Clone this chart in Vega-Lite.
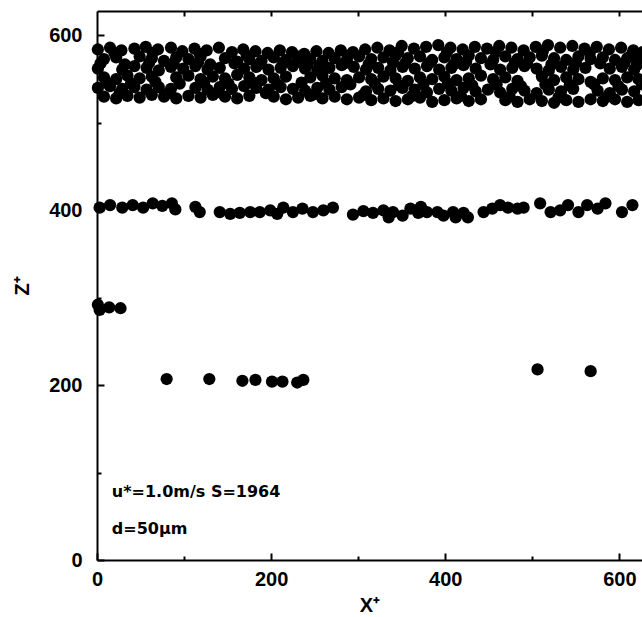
{
  "$schema": "https://vega.github.io/schema/vega-lite/v6.json",
  "width": 545,
  "height": 549,
  "autosize": {"type": "none"},
  "padding": {"left": 97, "top": 11, "right": 0, "bottom": 57},
  "background": "white",
  "config": {
    "view": {"stroke": null},
    "axis": {
      "domainColor": "black", "domainWidth": 2, "tickColor": "black", "tickWidth": 2,
      "labelFont": "Liberation Sans", "labelFontWeight": "bold", "labelFontSize": 20, "labelColor": "black",
      "titleFont": "Liberation Sans", "titleFontWeight": "bold", "titleFontSize": 20, "titleColor": "black",
      "grid": false, "labelFlush": false
    }
  },
  "datasets": {
    "particles": [
      {"x":1,"z":584},{"x":15,"z":586},{"x":28,"z":583},{"x":43,"z":585},{"x":56,"z":587},{"x":70,"z":584},{"x":85,"z":586},{"x":98,"z":582},{"x":112,"z":585},{"x":126,"z":583},{"x":140,"z":586},{"x":155,"z":581},{"x":168,"z":584},{"x":182,"z":582},{"x":196,"z":580},{"x":210,"z":583},{"x":224,"z":581},{"x":238,"z":579},{"x":252,"z":582},{"x":266,"z":580},{"x":280,"z":583},{"x":294,"z":581},{"x":308,"z":584},{"x":322,"z":586},{"x":336,"z":583},{"x":350,"z":588},{"x":364,"z":585},{"x":378,"z":587},{"x":392,"z":589},{"x":406,"z":586},{"x":420,"z":584},{"x":434,"z":587},{"x":448,"z":585},{"x":462,"z":588},{"x":476,"z":586},{"x":490,"z":583},{"x":504,"z":587},{"x":518,"z":589},{"x":532,"z":586},{"x":546,"z":588},{"x":560,"z":585},{"x":574,"z":587},{"x":588,"z":584},{"x":602,"z":586},{"x":616,"z":583},{"x":627,"z":581},
      {"x":8,"z":573},{"x":22,"z":575},{"x":49,"z":576},{"x":63,"z":574},{"x":77,"z":571},{"x":91,"z":575},{"x":105,"z":573},{"x":119,"z":576},{"x":147,"z":574},{"x":161,"z":570},{"x":175,"z":573},{"x":189,"z":571},{"x":203,"z":575},{"x":217,"z":572},{"x":231,"z":570},{"x":245,"z":573},{"x":259,"z":571},{"x":273,"z":574},{"x":287,"z":572},{"x":301,"z":576},{"x":315,"z":573},{"x":329,"z":575},{"x":343,"z":577},{"x":357,"z":574},{"x":371,"z":576},{"x":385,"z":572},{"x":399,"z":575},{"x":413,"z":573},{"x":427,"z":577},{"x":441,"z":574},{"x":455,"z":572},{"x":469,"z":576},{"x":483,"z":573},{"x":497,"z":575},{"x":511,"z":577},{"x":525,"z":574},{"x":539,"z":572},{"x":553,"z":576},{"x":567,"z":573},{"x":581,"z":575},{"x":595,"z":572},{"x":609,"z":574},{"x":622,"z":571},
      {"x":1,"z":562},{"x":29,"z":561},{"x":43,"z":565},{"x":57,"z":563},{"x":71,"z":560},{"x":85,"z":564},{"x":99,"z":562},{"x":113,"z":565},{"x":127,"z":561},{"x":141,"z":563},{"x":169,"z":562},{"x":183,"z":564},{"x":197,"z":561},{"x":211,"z":563},{"x":225,"z":565},{"x":239,"z":562},{"x":253,"z":560},{"x":267,"z":563},{"x":281,"z":566},{"x":295,"z":564},{"x":309,"z":561},{"x":323,"z":563},{"x":337,"z":560},{"x":351,"z":564},{"x":365,"z":562},{"x":379,"z":565},{"x":393,"z":561},{"x":407,"z":563},{"x":421,"z":566},{"x":435,"z":562},{"x":463,"z":561},{"x":477,"z":563},{"x":491,"z":565},{"x":505,"z":562},{"x":519,"z":560},{"x":533,"z":564},{"x":547,"z":561},{"x":561,"z":563},{"x":589,"z":562},{"x":603,"z":564},{"x":617,"z":561},
      {"x":8,"z":552},{"x":22,"z":550},{"x":35,"z":554},{"x":49,"z":551},{"x":63,"z":553},{"x":91,"z":552},{"x":105,"z":554},{"x":119,"z":550},{"x":133,"z":553},{"x":147,"z":551},{"x":161,"z":555},{"x":175,"z":552},{"x":189,"z":549},{"x":203,"z":551},{"x":217,"z":553},{"x":245,"z":552},{"x":259,"z":554},{"x":273,"z":551},{"x":287,"z":549},{"x":301,"z":552},{"x":315,"z":550},{"x":329,"z":553},{"x":343,"z":551},{"x":357,"z":548},{"x":371,"z":552},{"x":385,"z":550},{"x":399,"z":553},{"x":413,"z":549},{"x":427,"z":551},{"x":441,"z":554},{"x":455,"z":550},{"x":469,"z":552},{"x":483,"z":548},{"x":511,"z":553},{"x":525,"z":549},{"x":539,"z":552},{"x":553,"z":550},{"x":567,"z":547},{"x":581,"z":551},{"x":595,"z":549},{"x":609,"z":552},{"x":622,"z":550},
      {"x":1,"z":540},{"x":15,"z":542},{"x":29,"z":539},{"x":43,"z":541},{"x":57,"z":538},{"x":71,"z":541},{"x":85,"z":539},{"x":113,"z":540},{"x":127,"z":538},{"x":141,"z":541},{"x":155,"z":539},{"x":169,"z":542},{"x":183,"z":540},{"x":197,"z":538},{"x":211,"z":541},{"x":225,"z":539},{"x":239,"z":537},{"x":253,"z":540},{"x":267,"z":538},{"x":281,"z":541},{"x":309,"z":536},{"x":323,"z":539},{"x":337,"z":537},{"x":351,"z":540},{"x":365,"z":538},{"x":379,"z":535},{"x":393,"z":539},{"x":407,"z":537},{"x":421,"z":540},{"x":435,"z":536},{"x":449,"z":538},{"x":463,"z":535},{"x":477,"z":539},{"x":491,"z":537},{"x":505,"z":534},{"x":519,"z":538},{"x":533,"z":536},{"x":547,"z":539},{"x":575,"z":537},{"x":589,"z":534},{"x":603,"z":538},{"x":617,"z":536},
      {"x":8,"z":530},{"x":22,"z":528},{"x":35,"z":531},{"x":49,"z":529},{"x":63,"z":532},{"x":77,"z":530},{"x":91,"z":528},{"x":105,"z":531},{"x":119,"z":529},{"x":133,"z":532},{"x":147,"z":530},{"x":161,"z":528},{"x":175,"z":531},{"x":203,"z":530},{"x":217,"z":527},{"x":231,"z":529},{"x":245,"z":531},{"x":259,"z":528},{"x":273,"z":530},{"x":287,"z":527},{"x":301,"z":529},{"x":315,"z":526},{"x":329,"z":528},{"x":343,"z":525},{"x":357,"z":527},{"x":371,"z":529},{"x":385,"z":524},{"x":399,"z":526},{"x":413,"z":528},{"x":427,"z":525},{"x":441,"z":527},{"x":469,"z":526},{"x":483,"z":524},{"x":497,"z":527},{"x":511,"z":525},{"x":525,"z":523},{"x":539,"z":526},{"x":553,"z":524},{"x":567,"z":527},{"x":581,"z":525},{"x":595,"z":527},{"x":609,"z":524},{"x":622,"z":526},
      {"x":4,"z":568},{"x":32,"z":567},{"x":60,"z":569},{"x":88,"z":568},{"x":116,"z":569},{"x":130,"z":567},{"x":158,"z":568},{"x":186,"z":567},{"x":214,"z":569},{"x":242,"z":567},{"x":256,"z":566},{"x":284,"z":568},{"x":312,"z":567},{"x":340,"z":569},{"x":354,"z":568},{"x":382,"z":569},{"x":410,"z":567},{"x":424,"z":570},{"x":452,"z":567},{"x":480,"z":569},{"x":494,"z":568},{"x":522,"z":567},{"x":550,"z":569},{"x":578,"z":568},{"x":606,"z":569},{"x":620,"z":566},
      {"x":11,"z":546},{"x":39,"z":545},{"x":67,"z":547},{"x":95,"z":545},{"x":123,"z":546},{"x":151,"z":545},{"x":179,"z":546},{"x":207,"z":544},{"x":235,"z":546},{"x":263,"z":545},{"x":291,"z":544},{"x":319,"z":545},{"x":347,"z":543},{"x":375,"z":544},{"x":403,"z":545},{"x":431,"z":543},{"x":459,"z":544},{"x":487,"z":542},{"x":515,"z":544},{"x":543,"z":543},{"x":571,"z":544},{"x":599,"z":542},{"x":626,"z":544},
      {"x":20,"z":580},{"x":64,"z":580},{"x":118,"z":579},{"x":172,"z":577},{"x":230,"z":576},{"x":288,"z":577},{"x":346,"z":581},{"x":402,"z":581},{"x":458,"z":581},{"x":512,"z":582},{"x":566,"z":580},{"x":614,"z":578},
      {"x":26,"z":534},{"x":82,"z":534},{"x":138,"z":535},{"x":194,"z":534},{"x":250,"z":533},{"x":306,"z":532},{"x":362,"z":531},{"x":418,"z":531},{"x":474,"z":530},{"x":530,"z":529},{"x":586,"z":530},
      {"x":3,"z":403},{"x":15,"z":406},{"x":29,"z":403},{"x":41,"z":406},{"x":53,"z":403},{"x":64,"z":408},{"x":75,"z":405},{"x":86,"z":408},{"x":90,"z":401},
      {"x":113,"z":404},{"x":118,"z":398},
      {"x":141,"z":398},{"x":153,"z":396},{"x":164,"z":397},{"x":176,"z":398},{"x":187,"z":398},{"x":199,"z":400},{"x":207,"z":396},{"x":214,"z":403},{"x":225,"z":398},{"x":236,"z":402},
      {"x":248,"z":398},{"x":260,"z":400},{"x":271,"z":403},
      {"x":294,"z":395},{"x":306,"z":399},{"x":317,"z":397},{"x":329,"z":400},{"x":335,"z":392},{"x":340,"z":398},{"x":351,"z":394},{"x":360,"z":402},{"x":369,"z":397},{"x":372,"z":404},{"x":379,"z":398},{"x":391,"z":398},{"x":398,"z":394},{"x":409,"z":398},{"x":412,"z":392},{"x":421,"z":397},{"x":426,"z":392},
      {"x":444,"z":398},{"x":454,"z":402},{"x":463,"z":406},{"x":472,"z":403},{"x":483,"z":402},{"x":490,"z":403},{"x":509,"z":408},{"x":521,"z":398},{"x":532,"z":400},{"x":541,"z":406},{"x":553,"z":398},{"x":563,"z":406},{"x":575,"z":402},{"x":584,"z":408},
      {"x":603,"z":398},{"x":615,"z":406},
      {"x":1,"z":292},{"x":3,"z":286},{"x":14,"z":289},{"x":27,"z":288},
      {"x":80,"z":207},{"x":129,"z":207},{"x":167,"z":205},{"x":182,"z":206},{"x":201,"z":204},{"x":213,"z":204},{"x":230,"z":203},{"x":237,"z":206},
      {"x":506,"z":218},{"x":567,"z":216}
    ]
  },
  "layer": [
    {
      "data": {"name": "particles"},
      "mark": {"type": "point", "filled": true, "color": "black", "opacity": 1, "size": 150},
      "encoding": {
        "x": {"field": "x", "type": "quantitative",
          "scale": {"domain": [0, 626], "nice": false, "zero": false},
          "axis": {"orient": "bottom", "values": [0,100,200,300,400,500,600],
            "labelExpr": "datum.value % 200 === 0 ? datum.label : ''",
            "tickSize": {"condition": {"test": "datum.value % 200 === 0", "value": -7}, "value": -4},
            "labelPadding": 16, "title": "X⁺", "titlePadding": 6}},
        "y": {"field": "z", "type": "quantitative",
          "scale": {"domain": [0, 628], "nice": false, "zero": false},
          "axis": {"orient": "left", "values": [0,100,200,300,400,500,600],
            "labelExpr": "datum.value % 200 === 0 ? datum.label : ''",
            "tickSize": {"condition": {"test": "datum.value % 200 === 0", "value": -7}, "value": -4},
            "labelPadding": 22, "title": "Z⁺", "titlePadding": 16}}
      }
    },
    {
      "data": {"name": "particles"},
      "mark": {"type": "point", "opacity": 0},
      "encoding": {
        "x": {"field": "x", "type": "quantitative",
          "axis": {"orient": "top", "values": [100,200,300,400,500,600], "labels": false, "title": null, "tickSize": -5}},
        "y": {"field": "z", "type": "quantitative", "axis": null}
      }
    },
    {
      "data": {"values": [{}]},
      "mark": {"type": "text", "align": "left", "baseline": "alphabetic", "font": "DejaVu Sans", "fontWeight": "bold", "fontSize": 16, "color": "black", "text": "u*=1.0m/s S=1964"},
      "encoding": {"x": {"datum": 17, "axis": null}, "y": {"datum": 72, "axis": null}}
    },
    {
      "data": {"values": [{}]},
      "mark": {"type": "text", "align": "left", "baseline": "alphabetic", "font": "DejaVu Sans", "fontWeight": "bold", "fontSize": 16, "color": "black", "text": "d=50μm"},
      "encoding": {"x": {"datum": 17, "axis": null}, "y": {"datum": 30, "axis": null}}
    }
  ],
  "resolve": {"axis": {"x": "independent", "y": "independent"}}
}
